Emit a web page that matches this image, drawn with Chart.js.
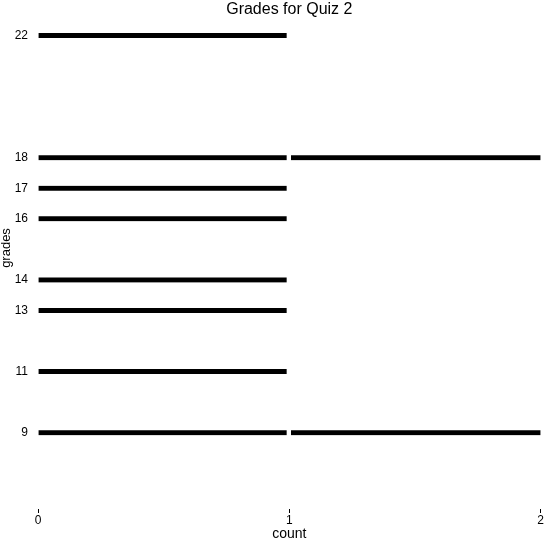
<!DOCTYPE html>
<html>
<head>
<meta charset="utf-8">
<script src="https://cdn.jsdelivr.net/npm/chart.js@4"></script>
<style>
  html, body { margin: 0; padding: 0; background: #fff; }
  #wrap { width: 544px; height: 541px; }
</style>
</head>
<body>
<div id="wrap"><canvas id="chart" width="544" height="541"></canvas></div>
<script>
// grades seen in quiz 2 and how many students got each
const grades = [9, 11, 13, 14, 16, 17, 18, 22];
const counts = [2, 1, 1, 1, 1, 1, 2, 1];
const xTicks = [0, 1, 2];

// one dataset per stacked unit so each student is its own segment
const firstUnit = grades
  .map(function(g, i) { return { x: 1, y: g, n: counts[i] }; })
  .filter(function(d) { return d.n >= 1; });
const secondUnit = grades
  .map(function(g, i) { return { x: 1, y: g, n: counts[i] }; })
  .filter(function(d) { return d.n >= 2; });

const family = "'Liberation Sans', Arial, sans-serif";
const tickFont = { family: family, size: 12 };

// y title sits a bit above the middle of the plot, like the original
const yTitlePlugin = {
  id: 'yTitle',
  afterDraw(chart) {
    const ctx = chart.ctx;
    ctx.save();
    ctx.translate(6.5, 248);
    ctx.rotate(-Math.PI / 2);
    ctx.fillStyle = '#000';
    ctx.font = '13px ' + family;
    ctx.textAlign = 'center';
    ctx.textBaseline = 'middle';
    ctx.fillText('grades', 0, 0);
    ctx.restore();
  },
};

new Chart(document.getElementById('chart'), {
  type: 'bar',
  data: {
    datasets: [
      {
        data: firstUnit,
        backgroundColor: '#000',
        borderColor: '#fff',
        borderWidth: { left: 0, right: 3, top: 0, bottom: 0 },
        borderSkipped: false,
        barThickness: 5,
      },
      {
        data: secondUnit,
        backgroundColor: '#000',
        borderColor: '#fff',
        borderWidth: { left: 2, right: 0, top: 0, bottom: 0 },
        borderSkipped: false,
        barThickness: 5,
      },
    ],
  },
  plugins: [yTitlePlugin],
  options: {
    indexAxis: 'y',
    responsive: false,
    animation: false,
    layout: { padding: { left: 0, right: 3, top: 0, bottom: 0 } },
    plugins: {
      legend: { display: false },
      tooltip: { enabled: false },
      title: {
        display: true,
        fullSize: false,
        text: 'Grades for Quiz 2',
        color: '#000',
        font: { family: family, size: 16, weight: 'normal' },
        padding: { top: 0, bottom: 1 },
      },
    },
    scales: {
      x: {
        type: 'linear',
        stacked: true,
        min: 0,
        max: 2,
        afterBuildTicks: function(axis) {
          axis.ticks = xTicks.map(function(v) { return { value: v }; });
        },
        afterFit: function(axis) { axis.height = 32; },
        grid: { display: true, drawOnChartArea: false, tickLength: 4, color: '#000', offset: false },
        border: { display: false },
        ticks: { color: '#000', font: tickFont, padding: 0, maxRotation: 0 },
        title: { display: true, text: 'count', color: '#000', font: { family: family, size: 14 }, padding: { top: 0, bottom: -2 } },
      },
      y: {
        type: 'linear',
        stacked: true,
        offset: false,
        min: 6.5,
        max: 22.5,
        afterBuildTicks: function(axis) {
          axis.ticks = grades.map(function(v) { return { value: v }; });
        },
        afterFit: function(axis) { axis.width = 38; },
        grid: { display: false, drawTicks: false },
        border: { display: false },
        ticks: { color: '#000', font: tickFont, padding: 10 },
      },
    },
  },
});
</script>
</body>
</html>
